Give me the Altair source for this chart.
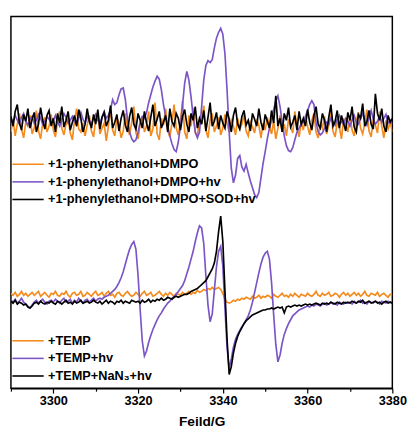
import altair as alt
import pandas as pd

# Field axis (G): spectra sampled every 0.5 G from 3290 to 3380
FIELD_START = 3290.0
FIELD_STEP = 0.5

# ---- upper group (DMPO) ----
top_names = ["+1-phenylethanol+DMPO", "+1-phenylethanol+DMPO+hv", "+1-phenylethanol+DMPO+SOD+hv"]
top_colors = ["#F48B1F", "#7B55C6", "#000000"]

dmpo = [
    262, 275, 258, 270, 281, 265, 256, 272, 268, 279, 260, 266, 284, 263, 255, 271, 277, 262, 268, 280,
    264, 257, 273, 283, 266, 259, 270, 276, 261, 254, 274, 286, 265, 262, 271, 258, 269, 279, 263, 257,
    275, 282, 260, 266, 271, 253, 268, 285, 264, 258, 277, 270, 256, 263, 281, 267, 259, 272, 288, 261,
    255, 270, 278, 262, 268, 283, 258, 265, 292, 260, 254, 276, 269, 286, 263, 257, 271, 290, 266, 259,
    273, 294, 262, 255, 279, 268, 287, 261, 258, 276, 270, 289, 264, 256, 274, 281, 262, 268, 277, 259,
    266, 280, 271, 262, 274, 268, 259, 276, 265, 270, 279, 263, 258, 272, 267, 261, 275, 269, 256, 271,
    264, 277, 268, 260, 273, 255, 266, 279, 262, 270, 258, 275, 268, 261, 283, 266, 257, 272, 264, 278,
    268, 259, 274, 281, 262, 256, 271, 266, 278, 260, 269, 283, 263, 257, 272, 267, 255, 276, 270, 262,
    279, 264, 258, 273, 282, 266, 260, 271, 285, 263, 257, 275, 269, 261, 283, 268, 256, 274, 265, 272,
    262,
]

dmpo_hv = [
    276, 272, 279, 274, 270, 277, 281, 273, 269, 275, 278, 271, 274, 280, 276, 270, 273, 278, 275, 271,
    274, 279, 272, 268, 275, 281, 277, 271, 274, 278, 273, 269, 276, 282, 275, 271, 278, 274, 270, 276,
    280, 274, 271, 277, 283, 276, 279, 285, 295, 290, 292, 300, 306, 307, 295, 275, 262, 255, 252, 254,
    262, 272, 278, 276, 282, 292, 300, 308, 314, 319, 316, 305, 290, 278, 268, 258, 250, 244, 242, 252,
    268, 290, 312, 324, 315, 298, 278, 262, 256, 262, 288, 315, 330, 335, 333, 336, 348, 358, 364, 368,
    362, 342, 305, 262, 225, 210, 218, 235, 238, 226, 222, 229, 220, 212, 205, 198, 195, 200, 215, 230,
    242, 255, 266, 274, 285, 294, 299, 288, 272, 258, 248, 243, 242, 246, 254, 262, 266, 270, 272, 278,
    284, 290, 294, 290, 272, 262, 259, 261, 266, 272, 270, 276, 273, 269, 275, 279, 272, 270, 276, 273,
    268, 274, 279, 272, 270, 276, 281, 274, 269, 277, 284, 275, 270, 273, 278, 272, 276, 280, 271, 274,
    270,
]

dmpo_sod_hv = [
    278, 268, 283, 290, 271, 264, 280, 273, 286, 266, 275, 282, 262, 270, 287, 274, 265, 279, 284, 268,
    276, 262, 281, 271, 288, 267, 274, 283, 264, 272, 279, 268, 285, 276, 262, 270, 286, 273, 266, 280,
    270, 285, 265, 277, 282, 268, 274, 289, 266, 272, 280, 263, 276, 284, 269, 262, 278, 287, 270, 265,
    281, 274, 266, 283, 271, 263, 277, 290, 268, 275, 283, 266, 272, 279, 262, 286, 273, 268, 281, 276,
    264, 278, 285, 270, 262, 281, 274, 288, 266, 276, 270, 284, 263, 277, 292, 268, 273, 282, 265, 279,
    271, 266, 283, 275, 262, 279, 287, 270, 265, 278, 284, 269, 274, 263, 281, 275, 268, 286, 272, 264,
    280, 273, 266, 284, 271, 299, 268, 276, 262, 281, 274, 287, 267, 272, 279, 264, 283, 270, 276, 268,
    285, 272, 264, 279, 288, 270, 266, 281, 274, 262, 277, 290, 268, 273, 284, 266, 279, 271, 263, 282,
    274, 288, 267, 262, 280, 276, 291, 268, 273, 284, 270, 265, 301, 281, 274, 286, 268, 262, 279, 272,
    276,
]

# ---- lower group (TEMP) ----
bot_names = ["+TEMP", "+TEMP+hv", "+TEMP+NaN\u2083+hv"]
bot_colors = ["#F48B1F", "#7B55C6", "#000000"]

temp = [
    97, 95, 98, 94, 96, 99, 95, 97, 94, 96, 98, 95, 97, 99, 94, 96, 98, 95, 93, 97,
    96, 99, 95, 94, 97, 96, 99, 95, 93, 97, 98, 95, 96, 99, 94, 95, 98, 96, 94, 97,
    99, 95, 96, 98, 94, 97, 99, 95, 96, 93, 97, 98, 95, 94, 97, 99, 96, 94, 95, 98,
    96, 94, 97, 99, 95, 96, 98, 94, 95, 97, 99, 96, 94, 97, 95, 98, 96, 94, 97, 96,
    95, 98, 96, 97, 99, 96, 98, 97, 100, 98, 99, 101, 100, 102, 101, 103, 101, 102, 103, 101,
    97, 91, 88, 87, 88, 90, 89, 91, 90, 92, 91, 93, 92, 91, 94, 92, 93, 95, 92, 94,
    93, 95, 94, 92, 96, 94, 93, 95, 97, 94, 95, 93, 96, 94, 97, 95, 93, 96, 95, 94,
    97, 95, 94, 96, 99, 95, 94, 97, 95, 96, 98, 94, 95, 97, 96, 93, 96, 98, 95, 97,
    94, 96, 98, 95, 97, 94, 96, 99, 95, 94, 97, 96, 95, 98, 94, 96, 97, 95, 93, 96,
    95,
]

temp_hv = [
    90, 88, 91, 87, 89, 92, 88, 86, 84, 82, 85, 88, 90, 87, 89, 91, 88, 86, 89, 90,
    88, 91, 89, 87, 90, 92, 88, 89, 91, 87, 90, 88, 92, 89, 87, 90, 91, 88, 90, 92,
    89, 91, 92, 91, 93, 94, 95, 97, 99, 101, 104, 108, 113, 119, 127, 135, 142, 147, 150, 142,
    115, 80, 48, 33, 38, 47, 54, 60, 65, 70, 74, 77, 81, 84, 87, 89, 92, 94, 96, 99,
    102, 105, 110, 117, 124, 132, 140, 150, 159, 166, 164, 148, 115, 85, 68, 76, 100, 124, 140, 145,
    125, 82, 42, 20, 30, 42, 50, 55, 59, 63, 66, 70, 74, 80, 88, 98, 108, 118, 127, 134,
    138, 140, 132, 108, 75, 45, 27, 34, 46, 55, 61, 66, 70, 74, 76, 78, 80, 81, 82, 83,
    84, 83, 85, 84, 86, 85, 84, 86, 87, 85, 86, 88, 86, 87, 85, 88, 87, 86, 88, 87,
    88, 86, 89, 87, 88, 90, 87, 88, 86, 89, 88, 87, 89, 88, 86, 89, 88, 87, 89, 88,
    88,
]

temp_nan3_hv = [
    89, 87, 90, 86, 88, 87, 85, 86, 83, 82, 84, 87, 88, 86, 89, 87, 86, 88, 87, 89,
    87, 86, 89, 88, 86, 88, 90, 87, 88, 86, 89, 87, 88, 90, 87, 88, 89, 87, 88, 90,
    88, 87, 89, 86, 88, 90, 87, 89, 88, 86, 89, 88, 90, 87, 89, 88, 87, 90, 89, 88,
    89, 87, 90, 88, 89, 91, 88, 90, 89, 91, 90, 92, 90, 91, 93, 92, 91, 93, 94, 93,
    94, 95, 96, 96, 97, 99, 100, 101, 102, 104, 106, 108, 110, 114, 118, 122, 128, 140, 160, 176,
    150, 100, 50, 14, 22, 36, 46, 53, 58, 62, 66, 69, 71, 73, 75, 76, 77, 78, 79, 80,
    80, 81, 81, 82, 81, 82, 83, 82, 83, 77, 83, 84, 83, 84, 85, 84, 85, 84, 85, 86,
    85, 86, 85, 86, 87, 86, 85, 87, 86, 87, 86, 88, 87, 86, 88, 87, 86, 88, 87, 88,
    87, 89, 88, 87, 89, 88, 90, 87, 88, 89, 87, 88, 89, 87, 88, 86, 88, 89, 87, 88,
    87,
]

tick_values = list(range(3290, 3381, 10))
FONT = "Liberation Sans"


def frame(names, series):
    rows = []
    for order, (name, vals) in enumerate(zip(names, series)):
        for i, v in enumerate(vals):
            rows.append({"field": FIELD_START + FIELD_STEP * i, "intensity": v,
                         "series": name, "k": order})
    return pd.DataFrame(rows)


top_df = frame(top_names, [dmpo, dmpo_hv, dmpo_sod_hv])
bot_df = frame(bot_names, [temp, temp_hv, temp_nan3_hv])

x_enc = alt.X(
    "field:Q",
    scale=alt.Scale(domain=[3290, 3380], nice=False, zero=False),
    axis=alt.Axis(
        values=tick_values,
        labelExpr="datum.value % 20 == 0 ? datum.label : ''",
        tickSize={"condition": {"test": "datum.value % 20 == 0", "value": 5}, "value": 3},
        title="Feild/G",
        grid=False,
        labelFlush=False,
        labelFont=FONT, labelFontWeight="bold", labelFontSize=13, labelColor="black",
        labelPadding=2,
        titleFont=FONT, titleFontWeight="bold", titleFontSize=14, titleColor="black",
        titlePadding=7,
        domainColor="black", domainWidth=1.5, tickColor="black", tickWidth=1.2,
        format="d",
    ),
)
y_enc = alt.Y("intensity:Q", scale=alt.Scale(domain=[0, 380], nice=False, zero=False), axis=None)


def legend(ly):
    return alt.Legend(
        orient="none", legendX=11, legendY=ly, title=None, padding=0,
        symbolType="M-3.2,0H3.2", symbolSize=100, symbolStrokeWidth=1.6,
        labelFont=FONT, labelFontWeight="bold", labelFontSize=13, labelColor="black",
        labelOffset=14, rowPadding=4, labelLimit=0,
    )


top = alt.Chart(top_df).mark_line(strokeWidth=1.7, clip=True).encode(
    x=x_enc, y=y_enc,
    color=alt.Color("series:N", scale=alt.Scale(domain=top_names, range=top_colors), legend=legend(144.5)),
    order="field:Q",
)
bot = alt.Chart(bot_df).mark_line(strokeWidth=1.7, clip=True).encode(
    x=x_enc, y=y_enc,
    color=alt.Color("series:N", scale=alt.Scale(domain=bot_names, range=bot_colors), legend=legend(325)),
    order="field:Q",
)

chart = alt.layer(top, bot).resolve_scale(color="independent").properties(
    width=390, height=380,
    padding={"left": 2, "top": 4, "right": 0, "bottom": 0},
    background="white",
).configure_view(stroke="black", strokeWidth=1.5)

chart.save("out.html", embed_options={"renderer": "svg", "actions": False})
